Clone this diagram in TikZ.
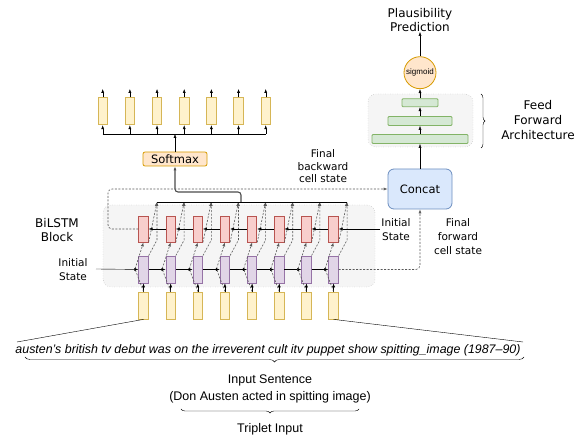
\documentclass[tikz,border=0pt]{standalone}
\usepackage{fontspec}
\setmainfont{Liberation Sans}
\newfontfamily\verd{DejaVu Sans}
\usetikzlibrary{arrows.meta,positioning,calc,decorations.pathreplacing}

\definecolor{yelfill}{HTML}{FFF2CC}
\definecolor{yeldraw}{HTML}{D6B656}
\definecolor{purfill}{HTML}{E1D5E7}
\definecolor{purdraw}{HTML}{9673A6}
\definecolor{redfill}{HTML}{F8CECC}
\definecolor{reddraw}{HTML}{B85450}
\definecolor{grnfill}{HTML}{D5E8D4}
\definecolor{grndraw}{HTML}{82B366}
\definecolor{orgfill}{HTML}{FFE6CC}
\definecolor{orgdraw}{HTML}{D79B00}
\definecolor{blufill}{HTML}{DAE8FC}
\definecolor{bludraw}{HTML}{6C8EBF}
\definecolor{panelfill}{HTML}{F5F5F5}

\begin{document}
\begin{tikzpicture}[
  x=1pt, y=-1pt,
  >={Latex[length=4pt,width=3pt]},
  every node/.style={font=\fontsize{12.5}{14}\selectfont, inner sep=0pt},
  cell/.style={draw, line width=0.8pt, minimum width=9.5pt, minimum height=27pt},
  incell/.style={cell, fill=yelfill, draw=yeldraw},
  fwcell/.style={cell, fill=purfill, draw=purdraw},
  bwcell/.style={cell, fill=redfill, draw=reddraw, minimum height=26pt},
  bar/.style={draw=grndraw, fill=grnfill, rounded corners=1pt,
              minimum height=9pt, line width=0.8pt},
  panel/.style={draw=gray!75, dotted, fill=panelfill, rounded corners=8pt},
  link/.style={gray!70!black, dash pattern=on 2pt off 1.5pt, line width=0.6pt},
  lbl/.style={align=center, font=\verd\fontsize{10.5}{13}\selectfont},
]
  \useasboundingbox (0,0) rectangle (579,435);

  % BiLSTM block
  \node[panel, minimum width=272pt, minimum height=82pt] (block) at (239,246) {};
  \foreach \i in {1,...,8} {
    \pgfmathsetmacro\cx{143.5+27.15*(\i-1)}
    \node[incell] (x\i) at (\cx,305.5) {};
    \node[fwcell] (f\i) at (\cx,269.5) {};
    \node[bwcell] (b\i) at (\cx,229) {};
    \coordinate (k\i) at (\cx-8.5,269);
    \coordinate (t\i) at (\cx+13.5,202);
    \draw[->] (x\i) -- (f\i);
    \draw[link, ->] (x\i.north) -- (k\i) -- (b\i.south);
    \draw[link, ->] (f\i.north east) -- (\cx+13.5,240) -- (t\i);
    \draw[link, ->] (b\i.south east) -- (t\i);
  }
  \foreach \i [count=\j from 2] in {1,...,7} {
    \draw[->] (f\i) -- (f\j);
    \draw[->] (b\j) -- (b\i);
  }
  \coordinate (fin) at (96,269);
  \coordinate (bin) at (380,229);
  \draw[->] (fin) -- (f1);
  \draw[->] (bin) -- (b8);
  \draw (t1) -- (t8);

  % Softmax and outputs
  \node[draw=orgdraw, fill=orgfill, rounded corners=2pt, line width=0.8pt,
        minimum width=64pt, minimum height=14pt,
        font=\verd\fontsize{11.5}{13}\selectfont] (soft) at (175,159) {Softmax};
  \coordinate (bus) at (241,202);
  \draw[->, line width=1.1pt, black!70, rounded corners=3pt]
    (bus) -- (241,192) -| (soft.south);
  \foreach \i in {1,...,7} {
    \pgfmathsetmacro\ox{102.7+27.17*(\i-1)}
    \node[incell] (o\i) at (\ox,111.3) {};
    \coordinate (ob\i) at (\ox,134);
    \coordinate (ot\i) at (\ox,89);
    \draw[->] (ob\i) -- (o\i);
    \draw[->] (o\i) -- (ot\i);
  }
  \draw (ob1) -- (ob7);
  \draw[->] (soft) -- (soft.north |- ob1);

  % Concat and feed forward
  \node[draw=bludraw, fill=blufill, rounded corners=6pt, line width=0.8pt,
        minimum width=64pt, minimum height=40pt,
        font=\verd\fontsize{11.5}{13}\selectfont] (concat) at (420,189) {Concat};
  \node[panel, minimum width=105pt, minimum height=53pt] (ff) at (420.5,120.5) {};
  \node[bar, minimum width=96pt] (ff1) at (420,139) {};
  \node[bar, minimum width=64pt] (ff2) at (420,121) {};
  \node[bar, minimum width=36pt, minimum height=8pt] (ff3) at (420,102.7) {};
  \node[circle, draw=orgdraw, fill=orgfill, line width=0.8pt, minimum size=32pt,
        font=\fontsize{8}{9}\selectfont] (sig) at (420,72.7) {sigmoid};
  \node[lbl, font=\verd\fontsize{12}{14}\selectfont] (pred) at (420,20)
    {Plausibility\\Prediction};
  \draw[->] (concat) -- (ff1);
  \draw[->] (ff1) -- (ff2);
  \draw[->] (ff2) -- (ff3);
  \draw[->] (ff3) -- (sig);
  \draw[->] (sig) -- (pred);
  \draw[decorate, decoration={brace, amplitude=4pt}] (481,94) -- (481,148);
  \node[lbl, font=\verd\fontsize{12}{15}\selectfont] (fflbl) at (538,120)
    {Feed\\Forward\\Architecture};

  % Final cell states
  \draw[link, ->, rounded corners=4pt] (b1.west) -- (108,229) |- (concat.west);
  \draw[link, ->, rounded corners=4pt] (f8.east) -| (concat.south);
  \node[lbl, font=\verd\fontsize{10.5}{12.5}\selectfont] (bwlbl) at (323,166.5)
    {Final\\backward\\cell state};
  \node[lbl, font=\verd\fontsize{10.5}{14}\selectfont] (fwlbl) at (458,237)
    {Final\\forward\\cell state};
  \node[lbl, font=\verd\fontsize{10.5}{14}\selectfont] (initr) at (396,230)
    {Initial\\State};
  \node[lbl, font=\verd\fontsize{10.5}{14}\selectfont] (initl) at (73,269.5)
    {Initial\\State};
  \node[lbl, font=\verd\fontsize{12}{14}\selectfont] (blk) at (57,230)
    {BiLSTM\\Block};

  % Input sentence
  \node[font=\itshape\fontsize{12.4}{14}\selectfont] (sent) at (268,350)
    {austen's british tv debut was on the irreverent cult itv puppet show spitting\_image (1987--90)};
  \coordinate (sl) at (17,342);
  \coordinate (sr) at (523,342);
  \draw (x1.south) -- (sl);
  \draw (x8.south) -- (sr);
  \draw[decorate, decoration={brace, amplitude=5pt}] (524,357) -- (25,357);
  \node (insent) at (270,380) {Input Sentence};
  \node (triple) at (270,397) {(Don Austen acted in spitting image)};
  \draw[decorate, decoration={brace, amplitude=4pt}] (359,409) -- (181,409);
  \node (tripin) at (270,429) {Triplet Input};
\end{tikzpicture}
\end{document}
